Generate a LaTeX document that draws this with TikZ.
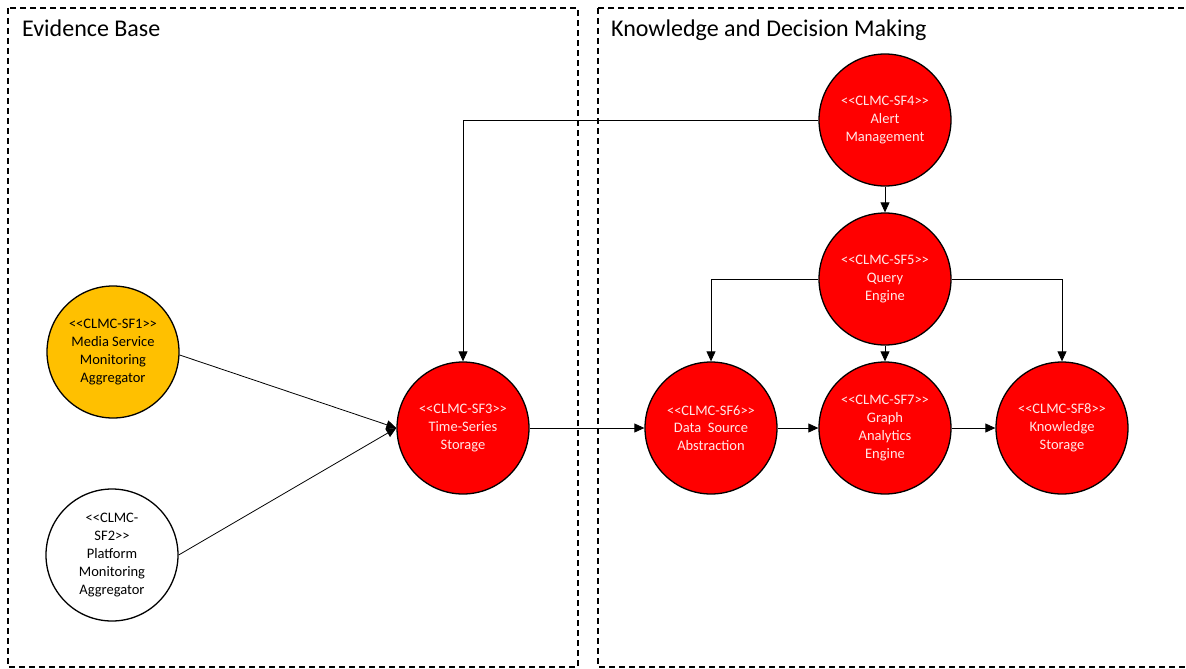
\documentclass[tikz,border=0pt]{standalone}
\usepackage{fontspec}
\setmainfont{Carlito}
\usetikzlibrary{arrows.meta}
\definecolor{sfred}{HTML}{FF0000}
\definecolor{sforange}{HTML}{FFC000}
\definecolor{sftext}{HTML}{FFE8E8}
% stereotype brackets kept as two plain characters each
\newcommand{\stOpen}{<\kern0pt<}
\newcommand{\stClose}{>\kern0pt>}
\begin{document}
\begin{tikzpicture}[x=1pt,y=-1pt,
  sf/.style={circle, draw=black, line width=1.3pt, minimum size=132pt, inner sep=0pt,
             align=center, font=\fontsize{14.5}{17.8}\selectfont},
  sfcore/.style={sf, fill=sfred, text=sftext},
  area/.style={draw=black, line width=1.3pt, dash pattern=on 6pt off 4pt},
  areatitle/.style={anchor=base west, font=\fontsize{24}{28}\selectfont, inner sep=0pt},
  link/.style={draw=black, line width=0.8pt, -{Triangle[length=10pt,width=9pt]}}]
  \useasboundingbox (0,0) rectangle (1186,669);
  \fill[white] (0,0) rectangle (1186,669);

  % grouping areas
  \draw[area] (8,8) rectangle (578,667);
  \draw[area] (598,8) rectangle (1192,667);
  \node[areatitle] (tEvidence) at (22,37) {Evidence Base};
  \node[areatitle] (tKnowledge) at (611,37) {Knowledge and Decision Making};

  % service functions
  \node[sf, fill=sforange] (sf1) at (113,352) {\stOpen CLMC-SF1\stClose\\Media Service\\Monitoring\\Aggregator};
  \node[sf, fill=white] (sf2) at (112,555) {\stOpen CLMC-\\SF2\stClose\\Platform\\Monitoring\\Aggregator};
  \node[sfcore] (sf3) at (463,428) {\stOpen CLMC-SF3\stClose\\Time-Series\\Storage};
  \node[sfcore] (sf4) at (885,120) {\stOpen CLMC-SF4\stClose\\Alert\\Management};
  \node[sfcore] (sf5) at (885,279) {\stOpen CLMC-SF5\stClose\\Query\\Engine};
  \node[sfcore] (sf6) at (711,428) {\stOpen CLMC-SF6\stClose\\Data\ \ Source\\Abstraction};
  \node[sfcore] (sf7) at (885,428) {\stOpen CLMC-SF7\stClose\\Graph\\Analytics\\Engine};
  \node[sfcore] (sf8) at (1062,428) {\stOpen CLMC-SF8\stClose\\Knowledge\\Storage};

  % data flows
  \draw[link] (sf1.east) ++(0,3) -- (sf3.west);
  \draw[link] (sf2.east) -- (sf3.west);
  \draw[link] (sf3) -- (sf6);
  \draw[link] (sf6) -- (sf7);
  \draw[link] (sf7) -- (sf8);
  \draw[link] (sf4) -- (sf5);
  \draw[link] (sf5) -- (sf7);
  \draw[link] (sf4.west) -| (sf3.north);
  \draw[link] (sf5.west) -| (sf6.north);
  \draw[link] (sf5.east) -| (sf8.north);
\end{tikzpicture}
\end{document}
